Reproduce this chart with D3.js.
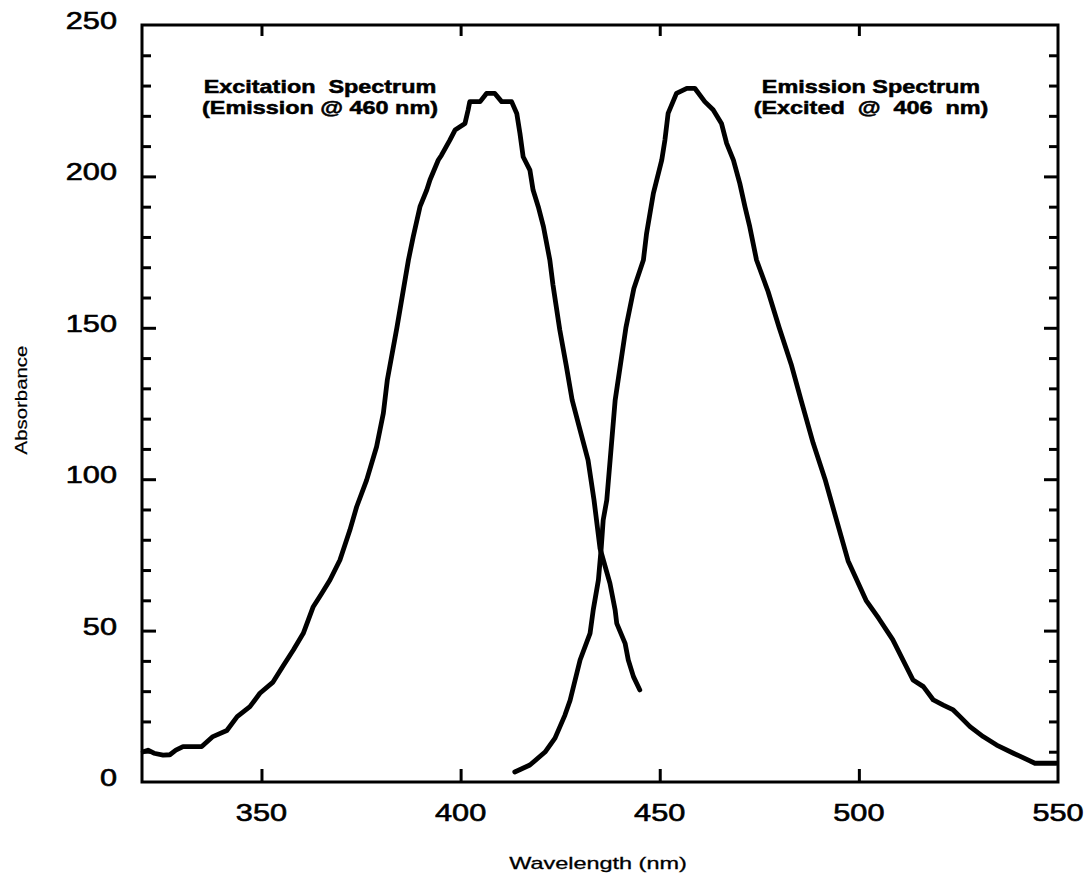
<!DOCTYPE html>
<html>
<head>
<meta charset="utf-8">
<script src="https://cdn.jsdelivr.net/npm/d3@7"></script>
<style>
  body { margin: 0; background: #fff; }
  svg { display: block; font-family: "Liberation Sans", Arial, sans-serif; }
</style>
</head>
<body>
<div id="chart"></div>
<script>
// values
const xTicks = [350, 400, 450, 500, 550];
const yTicks = [0, 50, 100, 150, 200, 250];
const yMinorTicks = d3.range(10, 250, 10);

const excitationNm = [320.3, 321.5, 323, 325.3, 327, 328.5, 330.3, 335, 337.8, 341.3, 343.9, 347.1, 349.6, 352.9, 355.5, 358, 360.5, 363, 365, 367.2, 369.7, 372.2, 373.9, 376.4, 378.9, 380.6, 381.6, 384, 386.9, 388.1, 389.8, 391.5, 392.3, 394.4, 395.2, 397.3, 398.6, 401.1, 401.9, 402.3, 404.9, 406.5, 408.6, 410.3, 412.8, 414.1, 414.9, 415.7, 417.4, 418.2, 419.5, 420.8, 422.4, 423.2, 424.9, 426.5, 428, 430, 432, 433.5, 435, 437.5, 438.8, 439.2, 441.3, 442.1, 443.4, 445];
const excitationVal = [10, 10.5, 9.5, 8.9, 9, 10.5, 11.7, 11.7, 15, 17, 21.6, 24.9, 29.3, 33, 38.5, 43.6, 49.1, 57.9, 62, 66.7, 73.3, 83.2, 90.9, 99.7, 110.7, 121.8, 132.8, 150, 172.4, 180.1, 190, 195.5, 198.8, 205.4, 207, 212, 215.3, 217.5, 222, 224.7, 224.7, 227.4, 227.4, 224.7, 224.7, 220.8, 214.2, 206.5, 202.1, 195.5, 190, 183.4, 172.4, 164.1, 149.3, 137.7, 126.2, 116.2, 106.3, 93.1, 77.2, 65.6, 56.8, 52.4, 45.8, 40.3, 34.8, 30.4];

const emissionNm = [413.6, 417.4, 421.2, 423.7, 426.2, 427.5, 430, 432.5, 433.3, 434.6, 435.3, 435.8, 436.7, 438.8, 441.5, 443.5, 445.9, 446.7, 448.4, 450.5, 451.3, 452.1, 454.2, 456.8, 458.8, 461.3, 463.4, 465.5, 466.8, 468.5, 470.1, 471.4, 472.6, 474.3, 477.2, 480, 483, 485.5, 488.5, 491.5, 494.5, 497.3, 501.8, 505, 508.5, 513.6, 516.2, 518.7, 521.2, 523.7, 525.4, 527.9, 531.2, 534.6, 538.8, 544.2, 549.6];
const emissionVal = [3.3, 5.6, 9.9, 14.5, 22.1, 27, 40.3, 49.1, 56.8, 66.7, 77.2, 86.5, 93.1, 126, 150, 163, 172.4, 181.2, 194.4, 205.4, 212, 220.8, 227.4, 229.1, 229.1, 224.7, 222, 217.5, 210.9, 205.4, 197.7, 190, 183.4, 172.4, 162, 150, 138, 126, 112, 100, 86, 73, 60, 54, 47, 33.7, 31.5, 27.1, 25.4, 23.8, 21.6, 18.3, 15, 12.2, 9.5, 6.2, 6.2];

const width = 1092, height = 879;
const plotLeft = 142, plotRight = 1058, plotTop = 25, plotBottom = 782;

const x = d3.scaleLinear().domain([320, 550]).range([plotLeft, plotRight]);
const y = d3.scaleLinear().domain([0, 250]).range([plotBottom, plotTop]);

const svg = d3.select("#chart").append("svg")
  .attr("width", width)
  .attr("height", height);

// frame
svg.append("rect")
  .attr("x", plotLeft).attr("y", plotTop)
  .attr("width", plotRight - plotLeft).attr("height", plotBottom - plotTop)
  .attr("fill", "none").attr("stroke", "#000").attr("stroke-width", 3);

// ticks (inward)
function tickAxis(axis, tx, ty) {
  const g = svg.append("g").attr("transform", `translate(${tx},${ty})`).call(axis);
  g.select(".domain").remove();
  g.selectAll("line").attr("stroke", "#000").attr("stroke-width", 3);
  g.selectAll("text").remove();
  return g;
}
const innerX = [350, 400, 450, 500];
const minorY = yMinorTicks.filter(d => d % 50);
const majorY = yTicks.slice(1, -1);
tickAxis(d3.axisBottom(x).tickValues(innerX).tickSize(-13), 0, plotBottom);
tickAxis(d3.axisTop(x).tickValues(innerX).tickSize(-11), 0, plotTop);
tickAxis(d3.axisLeft(y).tickValues(minorY).tickSize(-9), plotLeft, 0);
tickAxis(d3.axisLeft(y).tickValues(majorY).tickSize(-14), plotLeft, 0);
tickAxis(d3.axisRight(y).tickValues(minorY).tickSize(-9), plotRight, 0);
tickAxis(d3.axisRight(y).tickValues(majorY).tickSize(-14), plotRight, 0);

// tick labels (wide lettering like the original)
const labels = svg.append("g")
  .attr("font-size", 24)
  .attr("stroke", "#000")
  .attr("stroke-width", 0.6);

labels.append("g").selectAll("text")
  .data(xTicks)
  .join("text")
  .attr("transform", d => `translate(${x(d)},821) scale(1.28,1)`)
  .attr("text-anchor", "middle")
  .text(d => d);

labels.append("g").selectAll("text")
  .data(yTicks)
  .join("text")
  .attr("transform", d => `translate(117,${y(d) + 4}) scale(1.28,1)`)
  .attr("text-anchor", "end")
  .text(d => d);

// axis titles
svg.append("text")
  .attr("transform", "translate(598,869) scale(1.38,1)")
  .attr("text-anchor", "middle")
  .attr("font-size", 17)
  .attr("stroke", "#000")
  .attr("stroke-width", 0.3)
  .text("Wavelength (nm)");

svg.append("text")
  .attr("transform", "translate(27,400) rotate(-90) scale(1.2,1)")
  .attr("text-anchor", "middle")
  .attr("font-size", 17)
  .attr("stroke", "#000")
  .attr("stroke-width", 0.2)
  .text("Absorbance");

// curves
const line = d3.line().x(d => x(d[0])).y(d => y(d[1]));
const excitation = excitationNm.map((d, i) => [d, excitationVal[i]]);
const emission = emissionNm.map((d, i) => [d, emissionVal[i]]);

svg.append("g")
  .attr("fill", "none")
  .attr("stroke", "#000")
  .attr("stroke-width", 4.8)
  .attr("stroke-linejoin", "round")
  .attr("stroke-linecap", "round")
  .selectAll("path")
  .data([excitation, emission])
  .join("path")
  .attr("d", line);

// annotations
const notes = [
  { cx: 320, lines: ["Excitation  Spectrum", "(Emission @ 460 nm)"] },
  { cx: 871, lines: ["Emission Spectrum", "(Excited  @  406  nm)"] }
];
notes.forEach(n => {
  n.lines.forEach((t, i) => {
    svg.append("text")
      .attr("transform", `translate(${n.cx},${93 + i * 21}) scale(1.3,1)`)
      .attr("text-anchor", "middle")
      .attr("font-size", 18)
      .attr("font-weight", "bold")
      .attr("stroke", "#000")
      .attr("stroke-width", 0.5)
      .style("white-space", "pre")
      .text(t);
  });
});
</script>
</body>
</html>
